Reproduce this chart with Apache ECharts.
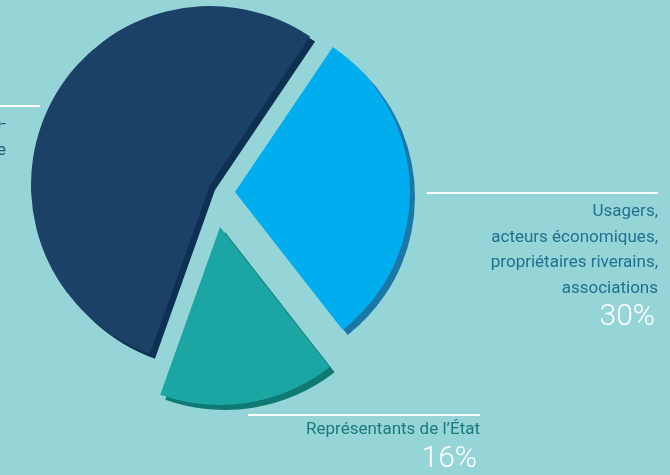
<!DOCTYPE html>
<html>
<head>
<meta charset="utf-8">
<script src="https://cdn.jsdelivr.net/npm/echarts@6/dist/echarts.min.js"></script>
<style>
html,body{margin:0;padding:0;background:#95d5d7;}
#chart{width:670px;height:475px;}
</style>
</head>
<body>
<div id="chart"></div>
<script>
// données du camembert (ordre horaire depuis la découpe en haut à droite)
var noms = [
  'Usagers,\nacteurs économiques,\npropriétaires riverains,\nassociations',
  'Représentants de l\u2019État',
  'Élus des collectivités territoriales, de leurs groupements et des établisse-\nments publics locaux et syndicats de rivière'
];
var valeurs = [30, 16, 54];
var couleurs = ['#00aeef', '#1ba6a3', '#1b4266'];
var couleursOmbre = ['#1b77a6', '#0f7a74', '#0e3153'];
var couleursTexte = ['#22708f', '#1b7b78', '#24587a'];
var afficherPct = [true, true, false];

// mise en page : un anneau par part (chaque part est décalée à la main)
var parts = [
  {centre: [235, 192], rayon: 175, lx: 658, ly: 199, trait: [427, 658, 193]},
  {centre: [220, 227], rayon: 178, lx: 480, ly: 417, trait: [248, 480, 415]},
  {centre: [210, 185], rayon: 179, lx: 6, ly: 112, trait: [0, 40, 106]}
];

var series = parts.map(function (p, k) {
  var data = noms.map(function (n, i) {
    var visible = (i === k);
    return {
      name: n,
      value: valeurs[i],
      itemStyle: visible ? {
        color: couleurs[i],
        shadowColor: couleursOmbre[i],
        shadowBlur: 0,
        shadowOffsetX: 5,
        shadowOffsetY: 5
      } : {color: 'transparent'},
      label: {show: visible}
    };
  });
  return {
    type: 'pie',
    center: p.centre,
    radius: [0, p.rayon],
    startAngle: 56,
    clockwise: true,
    silent: true,
    animation: false,
    avoidLabelOverlap: false,
    itemStyle: {borderWidth: 0},
    labelLine: {show: false},
    label: {
      position: 'outside',
      align: 'right',
      formatter: function (d) {
        var s = '{n|' + d.name + '}';
        if (afficherPct[d.dataIndex]) s += '\n{p|' + d.value + '%}';
        return s;
      },
      rich: {
        n: {fontFamily: 'Roboto', fontWeight: 400, fontSize: 17, lineHeight: 25.5,
            color: couleursTexte[k], align: 'right'},
        p: {fontFamily: 'Roboto', fontWeight: 300, fontSize: 30, lineHeight: 33,
            color: '#ffffff', align: 'right', padding: [0, 3, 0, 0]}
      }
    },
    labelLayout: function () {
      return {x: p.lx, y: p.ly, align: 'right', verticalAlign: 'top'};
    },
    data: data
  };
});

var traits = parts.map(function (p) {
  return {
    type: 'line',
    shape: {x1: p.trait[0], y1: p.trait[2], x2: p.trait[1], y2: p.trait[2]},
    style: {stroke: '#ffffff', lineWidth: 2},
    silent: true
  };
});

var option = {
  backgroundColor: '#95d5d7',
  graphic: traits,
  series: series
};

var myChart = echarts.init(document.getElementById('chart'));
myChart.setOption(option);
</script>
</body>
</html>
